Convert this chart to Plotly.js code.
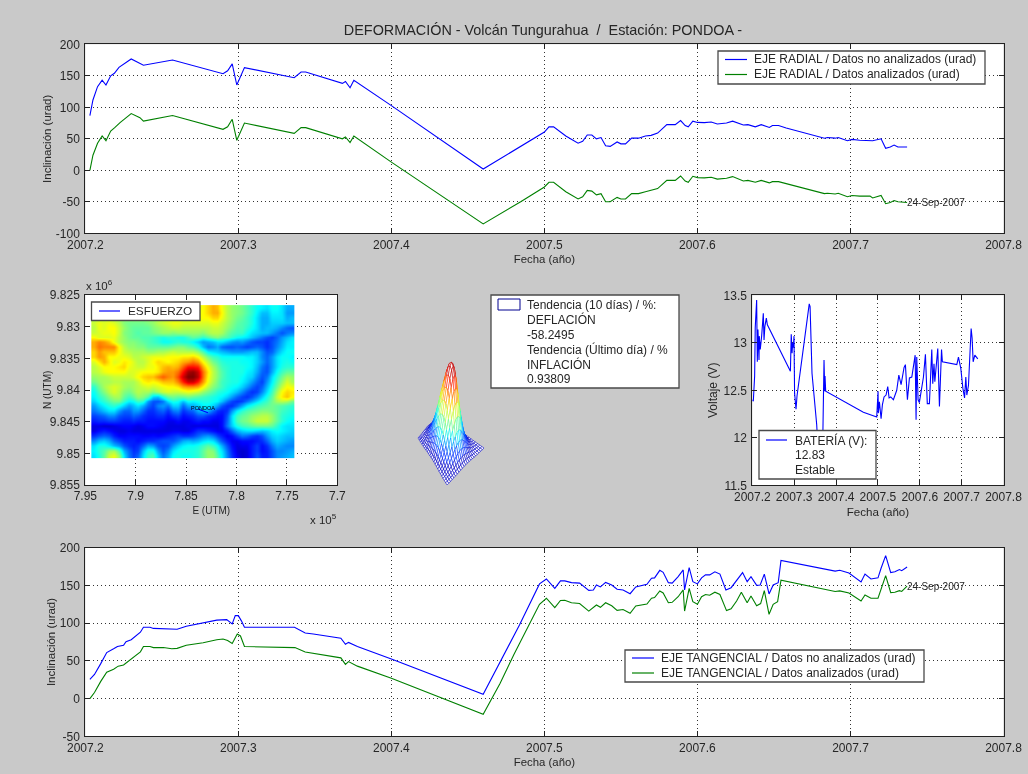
<!DOCTYPE html>
<html><head><meta charset="utf-8">
<script src="https://cdn.plot.ly/plotly-3.0.1.min.js"></script>
<style>html,body{margin:0;padding:0;background:#c9c9c9}#g{width:1028px;height:774px;filter:blur(.35px)}</style>
</head><body><div id="g"></div>
<script>
// ---------- data ----------
const radialNoX=[2007.203,2007.205,2007.208,2007.211,2007.2135,2007.2166,2007.219,2007.222,2007.230,2007.238,2007.257,2007.29,2007.293,2007.296,2007.299,2007.304,2007.3365,2007.341,2007.344,2007.368,2007.370,2007.373,2007.3755,2007.4,2007.46,2007.4845,2007.5,2007.503,2007.506,2007.514,2007.522,2007.525,2007.528,2007.531,2007.534,2007.537,2007.540,2007.543,2007.5475,2007.550,2007.553,2007.557,2007.5615,2007.566,2007.5697,2007.574,2007.580,2007.5855,2007.589,2007.592,2007.594,2007.597,2007.600,2007.6045,2007.609,2007.613,2007.619,2007.623,2007.630,2007.633,2007.6378,2007.6417,2007.647,2007.649,2007.653,2007.658,2007.683,2007.685,2007.69,2007.692,2007.698,2007.701,2007.706,2007.7145,2007.72,2007.723,2007.726,2007.7285,2007.731,2007.737];
const radialNoY=[86.8,111.6,132.8,142.9,135.4,150,154,163.5,176.7,166.7,175,153.4,158,169,135.4,163,147,156,156,138,141,131,143,102.6,2,37.6,60.8,69,69,54.5,43,46,56,56,50,52,39,38,45,42,42,51,51,54.5,55.5,59,72.5,72.5,79,71,69,78,76,75.7,76.7,73.5,75,78,72,72.5,69,72.5,68,71,71,67,51,52,51,52,47,49,47.6,47,50,35,37,40,37,37];
const radialSiX=[2007.203,2007.205,2007.208,2007.211,2007.2135,2007.2166,2007.2194,2007.2227,2007.230,2007.2357,2007.238,2007.257,2007.29,2007.293,2007.296,2007.299,2007.304,2007.3365,2007.341,2007.344,2007.368,2007.370,2007.373,2007.3755,2007.4,2007.46,2007.4845,2007.5,2007.503,2007.506,2007.514,2007.522,2007.525,2007.528,2007.531,2007.534,2007.537,2007.540,2007.543,2007.5475,2007.550,2007.553,2007.557,2007.5615,2007.566,2007.5697,2007.574,2007.580,2007.5855,2007.589,2007.592,2007.594,2007.597,2007.600,2007.6045,2007.609,2007.613,2007.619,2007.623,2007.630,2007.633,2007.6378,2007.6417,2007.647,2007.649,2007.653,2007.658,2007.683,2007.685,2007.69,2007.692,2007.698,2007.701,2007.706,2007.7128,2007.7145,2007.72,2007.723,2007.726,2007.7285,2007.731,2007.737];
const radialSiY=[0,24,43,54.5,47,62.4,68,75.7,90,83.6,78,87,65,69,81,47.6,75,58.7,68,67.7,50,53,44,54.5,13,-85,-50,-26.5,-19,-19,-34,-45.5,-42,-32,-33,-39,-37,-50,-50,-43,-45.5,-45.5,-37,-37,-34,-32,-29,-16,-16,-9,-17,-19,-9.5,-11.6,-12,-11,-14,-12.7,-10,-17,-16,-19,-16,-20,-18,-18,-21,-37,-36.5,-37.5,-36.5,-42,-40,-41,-41,-44,-40,-53,-51,-48,-50,-51];
const tangNoX=[2007.203,2007.206,2007.21,2007.214,2007.2185,2007.221,2007.225,2007.2266,2007.23,2007.236,2007.238,2007.2423,2007.2445,2007.251,2007.2565,2007.26,2007.266,2007.277,2007.2859,2007.2924,2007.296,2007.298,2007.30,2007.302,2007.304,2007.3367,2007.3437,2007.349,2007.358,2007.367,2007.37,2007.372,2007.3778,2007.4,2007.46,2007.473,2007.4837,2007.4968,2007.5013,2007.5068,2007.5105,2007.5133,2007.5177,2007.523,2007.529,2007.532,2007.534,2007.5366,2007.54,2007.544,2007.5475,2007.5514,2007.556,2007.5597,2007.567,2007.57,2007.572,2007.5754,2007.5776,2007.581,2007.5835,2007.5874,2007.5907,2007.5916,2007.5946,2007.597,2007.6,2007.6027,2007.6053,2007.608,2007.6114,2007.6147,2007.6186,2007.622,2007.6295,2007.6325,2007.635,2007.6387,2007.641,2007.6437,2007.6468,2007.6495,2007.6528,2007.6546,2007.69,2007.693,2007.699,2007.7069,2007.7095,2007.7134,2007.718,2007.72,2007.723,2007.7263,2007.729,2007.732,2007.7335,2007.737];
const tangNoY=[25.5,32,46,61,66,69,70.6,75.5,78,88,94.5,94.5,93,92.7,91.5,92,96,100,104,104.6,99,110,110,103,94.5,94.5,87,85.6,83,80,72,74.5,69,52.5,5.7,55.6,97.5,152,158.6,146,156,156,153.7,153,143.5,144,150.6,148,154,150.6,145,144,139,148,151.5,159.5,160,170,167.4,153.7,153,161.7,170.5,144,173.6,155,152,160,164,164,168,165,144,147,167,155,161.7,150,150.6,165,138.7,150.6,153.7,183,169,170,166.5,154.6,165,158.6,160,172.7,189.5,167,168,171,169.6,174.5];
const tangSiX=[2007.203,2007.206,2007.21,2007.214,2007.2185,2007.2215,2007.225,2007.23,2007.236,2007.238,2007.2423,2007.2445,2007.251,2007.2565,2007.26,2007.266,2007.277,2007.2859,2007.29,2007.293,2007.296,2007.2993,2007.3014,2007.304,2007.3208,2007.337,2007.3437,2007.353,2007.367,2007.37,2007.372,2007.3778,2007.4,2007.46,2007.471,2007.48,2007.4968,2007.5013,2007.5068,2007.5105,2007.5133,2007.5177,2007.523,2007.529,2007.534,2007.5366,2007.54,2007.544,2007.5475,2007.5514,2007.556,2007.5597,2007.567,2007.57,2007.572,2007.5754,2007.5776,2007.581,2007.5835,2007.5874,2007.5907,2007.5916,2007.5946,2007.597,2007.6,2007.6027,2007.6053,2007.608,2007.6114,2007.6147,2007.619,2007.622,2007.6256,2007.6287,2007.6325,2007.635,2007.6387,2007.6413,2007.6437,2007.6468,2007.6495,2007.6524,2007.6546,2007.69,2007.693,2007.699,2007.7069,2007.7095,2007.7134,2007.718,2007.72,2007.723,2007.7263,2007.729,2007.732,2007.7335,2007.737];
const tangSiY=[0,8,22.5,35,39,43,44.6,52,62,69,69,67.6,67.6,66,66.6,70.6,74,78,79,77,73,85.6,83,69,68,67.6,61.7,58.7,54,45.4,49,43,27,-20.8,20,58,125,133,120.6,130,130.4,127,126,116,124,121,127,123,117,118,113,122.8,125.4,133,134,142.7,140,127,127.6,135,144,116,146,128.5,125,135,138,137,141,138,116.6,119,129.4,141,127,136,123,126,143,111.7,125,128.5,157,142,142.7,140,129.4,137.4,133,133,144,163,140.5,141,143,142,149];
const bateriaX=[2007.2,2007.2024,2007.2056,2007.207,2007.2104,2007.212,2007.2135,2007.216,2007.2167,2007.219,2007.2223,2007.2247,2007.2263,2007.228,2007.23,2007.2335,2007.236,2007.291,2007.293,2007.295,2007.2964,2007.298,2007.2996,2007.301,2007.3044,2007.3068,2007.336,2007.338,2007.3426,2007.3538,2007.357,2007.368,2007.3713,2007.373,2007.3737,2007.3753,2007.4653,2007.4972,2007.5004,2007.501,2007.5036,2007.5076,2007.5108,2007.5147,2007.5195,2007.5235,2007.5267,2007.5307,2007.537,2007.545,2007.55,2007.5554,2007.5625,2007.5657,2007.5705,2007.5753,2007.581,2007.589,2007.5912,2007.5928,2007.596,2007.599,2007.6088,2007.6135,2007.618,2007.623,2007.6287,2007.631,2007.634,2007.636,2007.639,2007.643,2007.647,2007.652,2007.654,2007.6885,2007.6924,2007.698,2007.703,2007.707,2007.71,2007.7124,2007.7163,2007.7187,2007.7227,2007.725,2007.7275,2007.7315,2007.7386];
const bateriaY=[12.4,12.384,12.65,13.16,13.45,12.8,13.14,12.82,13.07,12.93,13.07,13.23,13.31,13.03,13.17,13.26,13.19,12.7,13.09,12.89,13.0,12.95,13.07,12.47,12.3,12.44,13.41,13.38,12.68,12.14,11.88,11.88,12.82,12.49,12.65,12.49,12.27,12.22,12.49,12.26,12.38,12.2,12.35,12.43,12.45,12.54,12.42,12.43,12.4,12.5,12.66,12.56,12.74,12.77,12.4,12.63,12.64,12.87,12.19,12.85,12.4,12.37,12.64,12.88,12.36,12.36,12.93,12.57,12.78,12.59,12.78,12.94,12.33,12.93,12.8,12.77,12.85,12.73,12.52,12.42,12.64,12.45,12.55,12.75,13.15,13.05,12.8,12.87,12.83];
const esfuerzoX=[7.8382,7.8283];
const esfuerzoY=[9.843,9.8436];
// elevation grid, percent of colour range: rows north to south, columns left to right
const elevacion=[
[50,50,50,50,50,50,50,50,50,50,50,50,50,50,50,50,50,50,52,52,54,58,62,66,70,68,60,54,50,48,46,42,38,34,32,30,34,34,30,24,24],
[50,50,50,50,50,50,50,50,50,50,50,50,50,52,52,52,54,54,54,56,56,60,62,66,70,70,62,54,50,48,46,42,38,32,26,26,32,32,30,22,22],
[52,52,54,54,52,50,50,50,50,50,50,50,50,52,54,56,56,56,56,56,58,60,62,62,66,66,60,54,50,46,44,40,36,30,24,24,30,30,30,24,26],
[56,60,58,60,58,54,48,46,46,46,46,48,50,54,56,58,60,60,58,58,58,58,58,58,60,60,56,52,48,44,42,40,36,30,24,24,28,28,28,26,26],
[54,60,58,62,62,56,50,46,44,44,44,44,48,50,52,54,56,56,54,54,54,54,54,54,56,56,54,50,46,42,42,38,34,30,24,26,26,24,20,16,14],
[56,58,60,60,62,56,48,46,44,42,44,44,46,48,50,50,48,50,50,50,50,50,48,52,54,54,52,46,42,40,40,34,30,28,26,26,22,18,14,18,20],
[62,58,58,58,60,54,50,46,44,44,42,42,40,38,36,38,38,36,36,40,44,42,38,42,46,48,44,42,38,34,32,30,26,22,18,14,12,16,22,26,30],
[70,74,72,68,60,54,50,48,48,46,44,42,40,38,34,34,36,38,36,36,32,28,22,24,26,30,30,26,22,20,22,18,14,12,12,10,14,18,24,30,32],
[70,76,74,74,74,62,54,50,50,48,48,44,44,44,44,44,46,48,48,44,42,36,26,18,20,24,16,14,14,16,14,12,14,16,14,10,14,20,26,32,32],
[66,72,68,68,68,62,56,54,52,52,52,50,50,52,52,54,56,54,54,54,54,50,42,32,30,28,26,24,22,22,22,24,26,26,20,14,16,24,30,34,34],
[66,72,70,62,62,60,60,58,54,54,56,58,60,60,60,62,62,62,64,64,66,62,54,46,40,38,34,34,34,34,34,32,32,28,20,16,22,30,34,34,32],
[58,64,70,64,58,60,64,62,58,54,54,58,62,66,64,62,64,66,70,72,76,72,62,54,46,42,38,36,36,36,34,34,32,28,22,16,22,30,34,36,34],
[54,58,62,62,62,64,66,60,58,56,56,60,60,64,68,70,68,70,78,86,86,84,70,60,52,46,40,38,36,36,36,34,32,26,18,14,22,30,36,38,38],
[54,56,60,62,62,62,62,58,58,60,62,62,62,64,70,72,72,76,86,96,98,92,76,64,54,48,42,38,36,36,36,32,30,24,16,14,24,34,40,44,44],
[50,52,52,54,56,56,56,56,58,62,66,68,68,74,78,74,72,80,92,100,100,94,76,62,54,48,42,38,36,36,34,30,28,20,14,18,30,38,46,52,50],
[46,50,52,52,54,54,52,52,52,56,62,64,62,64,68,68,68,74,84,92,92,84,72,60,52,46,40,38,36,36,32,28,22,16,12,22,32,42,50,58,52],
[38,46,52,56,58,56,52,50,52,54,56,58,56,58,60,62,62,64,70,72,72,70,62,54,48,44,40,36,34,32,28,22,16,12,16,26,36,46,56,62,60],
[34,42,48,54,58,54,48,46,50,54,52,52,48,52,56,58,56,56,58,60,58,56,50,46,42,38,36,34,30,26,20,14,10,12,20,30,40,52,62,66,64],
[32,38,42,48,52,52,44,40,44,50,48,42,28,26,36,44,46,44,44,46,44,42,40,38,36,34,32,28,22,16,12,10,14,20,28,36,44,56,64,68,62],
[28,34,38,42,46,46,38,32,34,40,38,22,14,14,18,30,36,34,26,34,32,34,36,36,34,32,26,18,12,10,12,18,24,30,36,40,46,52,54,52,46],
[22,28,32,36,38,34,28,22,26,30,24,16,12,20,22,18,28,28,16,24,24,28,32,32,28,22,14,10,10,16,24,32,36,40,42,44,46,44,42,40,38],
[18,22,26,30,30,22,16,16,22,22,16,10,10,14,16,10,18,20,10,14,16,24,26,24,16,10,8,10,22,32,38,42,44,46,48,48,46,44,40,38,36],
[12,14,16,20,20,14,12,12,16,14,10,8,8,10,10,6,10,12,6,8,10,14,14,10,8,6,6,14,30,40,44,46,50,52,54,54,50,44,38,36,34],
[8,10,10,12,12,10,8,8,10,8,8,6,6,6,6,4,4,6,4,4,6,8,6,6,4,4,6,16,30,42,46,48,52,56,56,56,50,44,38,34,32],
[3,3,2,2,3,4,5,5,4,3,4,6,6,5,4,3,3,3,3,4,3,3,3,3,3,3,6,18,28,36,40,42,44,46,46,46,44,38,32,30,30],
[3,6,8,6,4,3,3,4,3,3,3,3,3,3,3,3,4,4,3,3,6,10,10,8,6,4,4,8,16,24,28,30,30,28,26,28,32,34,32,30,28],
[10,14,16,14,8,5,5,6,6,6,5,5,6,5,6,8,10,12,10,10,12,16,20,22,18,12,8,4,6,12,18,16,12,10,14,22,28,30,28,26,26],
[20,26,28,24,16,12,8,8,8,6,8,10,10,12,14,14,14,18,24,26,24,26,30,32,30,22,14,8,4,4,6,6,6,8,10,16,24,28,26,24,22],
[30,36,36,32,26,22,14,10,8,10,16,24,22,14,12,14,22,28,32,34,34,36,40,44,40,34,24,14,6,3,4,4,8,12,6,10,18,24,22,20,20],
[32,38,42,50,52,42,24,16,10,12,26,36,36,22,14,20,30,34,36,36,36,38,44,50,48,38,30,18,8,3,2,3,8,12,6,8,14,20,20,22,24],
[30,36,44,56,60,50,30,18,12,16,30,40,42,28,18,24,34,36,34,34,36,38,44,50,50,42,32,20,10,4,2,3,8,14,8,8,14,20,22,24,26]];
// bell profile of the small mesh, centre to edge
const campana=[1,.97,.88,.75,.61,.46,.32,.22,.14,.08,.04,.02];
const fechaTicks=[2007.2,2007.3,2007.4,2007.5,2007.6,2007.7,2007.8];
const fechaLabels=['2007.2','2007.3','2007.4','2007.5','2007.6','2007.7','2007.8'];
const radialTicks=[-100,-50,0,50,100,150,200];
const tangTicks=[-50,0,50,100,150,200];
const voltTicks=[11.5,12,12.5,13,13.5];
const voltLabels=['11.5','12','12.5','13','13.5'];
const mapXTicks=[7.95,7.9,7.85,7.8,7.75,7.7];
const mapXLabels=['7.95','7.9','7.85','7.8','7.75','7.7'];
const mapYTicks=[9.825,9.83,9.835,9.84,9.845,9.85,9.855];
const mapYLabels=['9.825','9.83','9.835','9.84','9.845','9.85','9.855'];
const tituloTxt='DEFORMACIÓN - Volcán Tungurahua \u00a0/\u00a0 Estación: PONDOA -';
const leyRadial=['EJE RADIAL / Datos no analizados (urad)','EJE RADIAL / Datos analizados (urad)'];
const leyTang=['EJE TANGENCIAL / Datos no analizados (urad)','EJE TANGENCIAL / Datos analizados (urad)'];
const leyTend=['Tendencia (10 días) / %:','DEFLACIÓN','-58.2495','Tendencia (Último día) / %','INFLACIÓN','0.93809'];
const leyBat=['BATERÍA (V):','12.83','Estable'];

// ---------- helpers ----------
const W=1028,H=774,BLUE='#0000ff',GREEN='#008000',TXT='#262626',FONT='Liberation Sans, Arial, sans-serif';
const px=x=>x/W, py=y=>1-y/H;
function axis(dom,vert,ticks,labels,range,extra){
  return Object.assign({domain:vert?[py(dom[1]),py(dom[0])]:[px(dom[0]),px(dom[1])],range,
    tickmode:'array',tickvals:ticks,ticktext:labels||ticks.map(String),ticks:'inside',ticklen:5,tickcolor:'#222',tickwidth:1,
    showline:true,linecolor:'#222',linewidth:1,mirror:'ticks',showgrid:true,gridcolor:'#333',gridwidth:1,griddash:'1px,3px',
    zeroline:false,tickfont:{family:FONT,size:12,color:TXT},layer:'above traces'},extra||{});
}
const ttl=(t,s,size)=>({text:t,standoff:s,font:{family:FONT,size:size||11.4,color:TXT}});
const line=(x,y,c,name,xa,ya)=>({type:'scatter',mode:'lines',x,y,name,xaxis:xa,yaxis:ya,line:{color:c,width:1.1},showlegend:false,hoverinfo:'skip'});

const shapes=[],annotations=[];
// white plot faces (the figure itself stays grey behind the mesh)
[[85.3,44.3,1003.5,233.3],[85.3,295,337.3,485],[752.3,295.3,1003.5,485.3],[85.3,547.7,1003.5,736.3]].forEach(r=>
  shapes.push({type:'rect',xref:'paper',yref:'paper',x0:px(r[0]),x1:px(r[2]),y0:py(r[1]),y1:py(r[3]),fillcolor:'#fff',line:{width:0},layer:'below'}));
function box(x0,y0,x1,y1){shapes.push({type:'rect',xref:'paper',yref:'paper',x0:px(x0),x1:px(x1),y0:py(y0),y1:py(y1),fillcolor:'#fff',line:{color:'#4a4a4a',width:1.3},layer:'above'});}
function seg(x0,x1,y,c){shapes.push({type:'line',xref:'paper',yref:'paper',x0:px(x0),x1:px(x1),y0:py(y),y1:py(y),line:{color:c,width:1.2},layer:'above'});}
function text(t,x,y,size,opt){annotations.push(Object.assign({text:t,xref:'paper',yref:'paper',x:px(x),y:py(y),xanchor:'left',yanchor:'middle',showarrow:false,font:{family:FONT,size:size,color:TXT},borderpad:0},opt||{}));}

// legends
const LF=12;
box(718,51,985,84); seg(725,747,59.5,BLUE); seg(725,747,74.5,GREEN);
text(leyRadial[0],753,59.5,LF); text(leyRadial[1],753,74.5,LF);
box(91.5,302,200,320.5); seg(99,120,311,BLUE); text('ESFUERZO',126.5,311,11.8);
box(491,295,679,388);
shapes.push({type:'rect',xref:'paper',yref:'paper',x0:px(498),x1:px(520),y0:py(299),y1:py(310),fillcolor:'#fff',line:{color:'#000090',width:1},layer:'above'});
leyTend.forEach((t,i)=>text(t,526,305+i*14.8,LF));
box(759,430.5,876,479); seg(766,787,440,BLUE); leyBat.forEach((t,i)=>text(t,794,440+i*15,LF));
box(625,650,924,682); seg(632,654,658,BLUE); seg(632,654,673,GREEN);
text(leyTang[0],660,658,LF); text(leyTang[1],660,673,LF);
// small notes
annotations.push({text:'24-Sep-2007',xref:'x',yref:'y',x:2007.736,y:-51,xanchor:'left',yanchor:'middle',showarrow:false,font:{family:FONT,size:10,color:TXT},borderpad:0});
annotations.push({text:'24-Sep-2007',xref:'x4',yref:'y4',x:2007.736,y:148,xanchor:'left',yanchor:'middle',showarrow:false,font:{family:FONT,size:10,color:TXT},borderpad:0});
annotations.push({text:'PONDOA',xref:'x2',yref:'y2',x:7.8332,y:9.8428,xanchor:'center',yanchor:'middle',showarrow:false,font:{family:FONT,size:5.5,color:'#000'},borderpad:0});
text('x 10<sup>6</sup>',85,285,11.5);
text('x 10<sup>5</sup>',309,519,11.5);
text('N (UTM)',47,390,10,{xanchor:'center',textangle:-90});

// map
const mapX0=7.944,mapX1=7.743,mapY0=9.8266,mapY1=9.8507;
const nc=elevacion[0].length,nr=elevacion.length;
const jet=[[0,'#0000b0'],[.05,'#0000ff'],[.33,'#00ffff'],[.62,'#ffff00'],[.87,'#ff0000'],[1,'#800000']];
const mapa={type:'heatmap',z:elevacion,x0:mapX0+(mapX1-mapX0)/nc/2,dx:(mapX1-mapX0)/nc,y0:mapY0+(mapY1-mapY0)/nr/2,dy:(mapY1-mapY0)/nr,
  zmin:0,zmax:100,zsmooth:'best',colorscale:jet,showscale:false,xaxis:'x2',yaxis:'y2',hoverinfo:'skip'};

// mesh: projected through hidden axes, painted back to front
const N=22;
const perfil=i=>campana[Math.abs(i-11)];
const B=[437,418],C=[484,448],A=[418,438],D=[447,485],alt=[5,-85];
function P(i,j){const u=i/N,v=j/N,h=perfil(i)*perfil(j);
  return [(1-u)*(1-v)*B[0]+u*(1-v)*C[0]+(1-u)*v*A[0]+u*v*D[0]+alt[0]*h,(1-u)*(1-v)*B[1]+u*(1-v)*C[1]+(1-u)*v*A[1]+u*v*D[1]+alt[1]*h];}
const bins=['#0000c8','#0030ff','#0090ff','#00f0ff','#60ffa0','#c0ff40','#ffe000','#ff9000','#ff2000','#c00000'];
const mesh=[];
for(let d=0;d<2*N-1;d++){
  const fx=[],fy=[],lx=bins.map(()=>[]),ly=bins.map(()=>[]);
  for(let i=0;i<N;i++){const j=d-i;if(j<0||j>=N)continue;
    const q=[P(i,j),P(i+1,j),P(i+1,j+1),P(i,j+1)];
    q.concat([q[0],[null,null]]).forEach(p=>{fx.push(p[0]);fy.push(p[1]);});
    const z=Math.max(perfil(i)*perfil(j),perfil(i+1)*perfil(j+1)), b=Math.min(bins.length-1,Math.floor(z*bins.length));
    q.concat([q[0],[null,null]]).forEach(p=>{lx[b].push(p[0]);ly[b].push(p[1]);});
  }
  mesh.push({type:'scatter',mode:'lines',x:fx,y:fy,fill:'toself',fillcolor:'#fff',line:{width:0},xaxis:'x5',yaxis:'y5',showlegend:false,hoverinfo:'skip'});
  bins.forEach((c,k)=>{if(lx[k].length)mesh.push({type:'scatter',mode:'lines',x:lx[k],y:ly[k],line:{color:c,width:.55},xaxis:'x5',yaxis:'y5',showlegend:false,hoverinfo:'skip'});});
}

const data=[
 line(radialNoX,radialNoY,BLUE,leyRadial[0],'x','y'),
 line(radialSiX,radialSiY,GREEN,leyRadial[1],'x','y'),
 mapa,
 line(esfuerzoX,esfuerzoY,BLUE,'ESFUERZO','x2','y2'),
 line(bateriaX,bateriaY,BLUE,'BATERÍA (V)','x3','y3'),
 line(tangNoX,tangNoY,BLUE,leyTang[0],'x4','y4'),
 line(tangSiX,tangSiY,GREEN,leyTang[1],'x4','y4')
].concat(mesh);

const layout={width:W,height:H,margin:{l:0,r:0,t:0,b:0},paper_bgcolor:'#c9c9c9',plot_bgcolor:'rgba(0,0,0,0)',showlegend:false,
 title:{text:tituloTxt,x:px(543),y:py(30),xref:'paper',yref:'paper',xanchor:'center',yanchor:'middle',font:{family:FONT,size:14.4,color:TXT}},
 xaxis:axis([85.3,1003.5],false,fechaTicks,fechaLabels,[2007.2,2007.8],{anchor:'y',title:ttl('Fecha (año)',4)}),
 yaxis:axis([44.3,233.3],true,radialTicks,null,[-100,200],{anchor:'x',ticklabelstandoff:2,title:ttl('Inclinación (urad)',1,11.5)}),
 xaxis2:axis([85.3,337.3],false,mapXTicks,mapXLabels,[7.95,7.7],{anchor:'y2',title:ttl('E (UTM)',4,10)}),
 yaxis2:axis([295,485],true,mapYTicks,mapYLabels,[9.855,9.825],{anchor:'x2',ticklabelstandoff:2}),
 xaxis3:axis([752.3,1003.5],false,fechaTicks,fechaLabels,[2007.2,2007.8],{anchor:'y3',title:ttl('Fecha (año)',5,11.6)}),
 yaxis3:axis([295.3,485.3],true,voltTicks,voltLabels,[11.5,13.5],{anchor:'x3',ticklabelstandoff:2,title:ttl('Voltaje (V)',3,12)}),
 xaxis4:axis([85.3,1003.5],false,fechaTicks,fechaLabels,[2007.2,2007.8],{anchor:'y4',title:ttl('Fecha (año)',4)}),
 yaxis4:axis([547.7,736.3],true,tangTicks,null,[-50,200],{anchor:'x4',ticklabelstandoff:2,title:ttl('Inclinación (urad)',1,11.5)}),
 xaxis5:{domain:[px(405),px(500)],range:[405,500],visible:false,anchor:'y5',fixedrange:true},
 yaxis5:{domain:[py(495),py(350)],range:[495,350],visible:false,anchor:'x5',fixedrange:true},
 shapes,annotations
};
Plotly.newPlot('g',data,layout,{displayModeBar:false,staticPlot:true});
</script></body></html>
